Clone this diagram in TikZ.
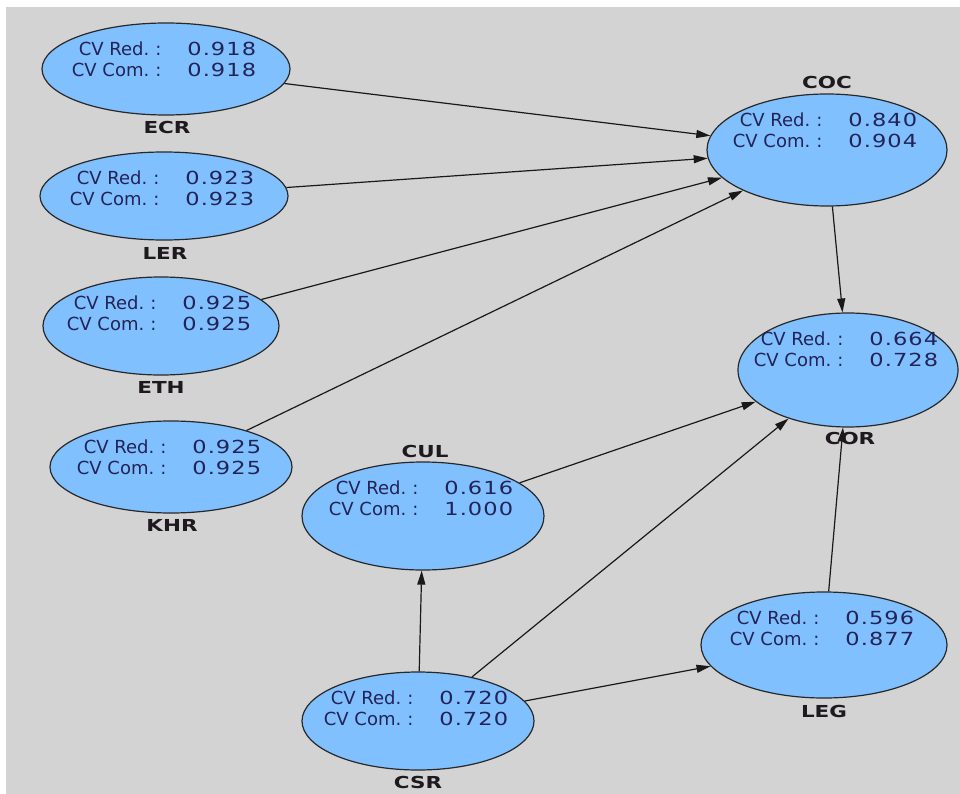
\documentclass[tikz,border=0pt]{standalone}
\usepackage{fontspec}
\setmainfont{DejaVu Sans}
\newfontfamily\numfont[FakeStretch=1.25,LetterSpace=6]{DejaVu Sans}
\newfontfamily\lblfont[FakeStretch=1.3]{DejaVu Sans}
\usetikzlibrary{arrows.meta,shapes.geometric}
\definecolor{bggray}{RGB}{211,211,211}
\definecolor{lvfill}{RGB}{128,192,255}
\definecolor{lvline}{RGB}{40,40,40}
\definecolor{txtcol}{RGB}{35,35,85}
\definecolor{lblcol}{RGB}{30,25,30}
\definecolor{edgecol}{RGB}{25,25,25}
\newcommand\cvtab[2]{\begin{tabular}{@{}r@{\hspace{6pt}:\hspace{26pt}}l@{}}CV Red. & {\numfont #1}\\ CV Com. & {\numfont #2}\end{tabular}}
\tikzset{
  lv/.style={ellipse, draw=lvline, line width=1.2pt, fill=lvfill, inner sep=0pt},
  cvtext/.style={inner sep=0pt, text=txtcol, font=\fontsize{18}{21}\selectfont},
  lvlabel/.style={inner sep=0pt, text=lblcol, font=\fontsize{16.5}{18}\selectfont\lblfont\bfseries},
  arr/.style={draw=edgecol, line width=1.2pt, -{Triangle[length=14pt,width=8pt]}}
}
\begin{document}
\begin{tikzpicture}[x=1pt,y=-1pt]
\useasboundingbox (0,0) rectangle (960,794);
\fill[white] (0,0) rectangle (960,794);
\fill[bggray] (6,7) rectangle (960,794);
% latent variables
\node[lv, minimum width=248pt, minimum height=92pt] (ECR) at (166,69) {};
\node[lv, minimum width=248pt, minimum height=88pt] (LER) at (164,196) {};
\node[lv, minimum width=236pt, minimum height=98pt] (ETH) at (161,326) {};
\node[lv, minimum width=242pt, minimum height=92pt] (KHR) at (171,467) {};
\node[lv, minimum width=240pt, minimum height=112pt] (COC) at (827,150) {};
\node[lv, minimum width=220pt, minimum height=114pt] (COR) at (848,370) {};
\node[lv, minimum width=242pt, minimum height=108pt] (CUL) at (423,516) {};
\node[lv, minimum width=232pt, minimum height=98pt] (CSR) at (418,721) {};
\node[lv, minimum width=246pt, minimum height=106pt] (LEG) at (824,645) {};
% texts
\node[cvtext] (tECR) at (164,62) {\cvtab{0.918}{0.918}};
\node[cvtext] (tLER) at (162,191) {\cvtab{0.923}{0.923}};
\node[cvtext] (tETH) at (159,316) {\cvtab{0.925}{0.925}};
\node[cvtext] (tKHR) at (169,460) {\cvtab{0.925}{0.925}};
\node[cvtext] (tCOC) at (825,133) {\cvtab{0.840}{0.904}};
\node[cvtext] (tCOR) at (846,352) {\cvtab{0.664}{0.728}};
\node[cvtext] (tCUL) at (421,501) {\cvtab{0.616}{1.000}};
\node[cvtext] (tCSR) at (416,711) {\cvtab{0.720}{0.720}};
\node[cvtext] (tLEG) at (822,631) {\cvtab{0.596}{0.877}};
% labels
\node[lvlabel] (lECR) at (167,127) {ECR};
\node[lvlabel] (lLER) at (165,253) {LER};
\node[lvlabel] (lETH) at (161,387) {ETH};
\node[lvlabel] (lKHR) at (172,525) {KHR};
\node[lvlabel] (lCOC) at (827,82) {COC};
\node[lvlabel] (lCOR) at (850,438) {COR};
\node[lvlabel] (lCUL) at (425,451) {CUL};
\node[lvlabel] (lCSR) at (418,782) {CSR};
\node[lvlabel] (lLEG) at (824,711) {LEG};
% paths
\draw[arr] (ECR) -- (COC);
\draw[arr] (LER) -- (COC);
\draw[arr] (ETH) -- (COC);
\draw[arr] (KHR) -- (COC);
\draw[arr] (COC) -- (COR);
\draw[arr] (CUL) -- (COR);
\draw[arr] (CSR) -- (COR);
\draw[arr] (CSR) -- (CUL);
\draw[arr] (CSR) -- (LEG);
\draw[arr] (LEG) -- (COR);
\end{tikzpicture}
\end{document}
